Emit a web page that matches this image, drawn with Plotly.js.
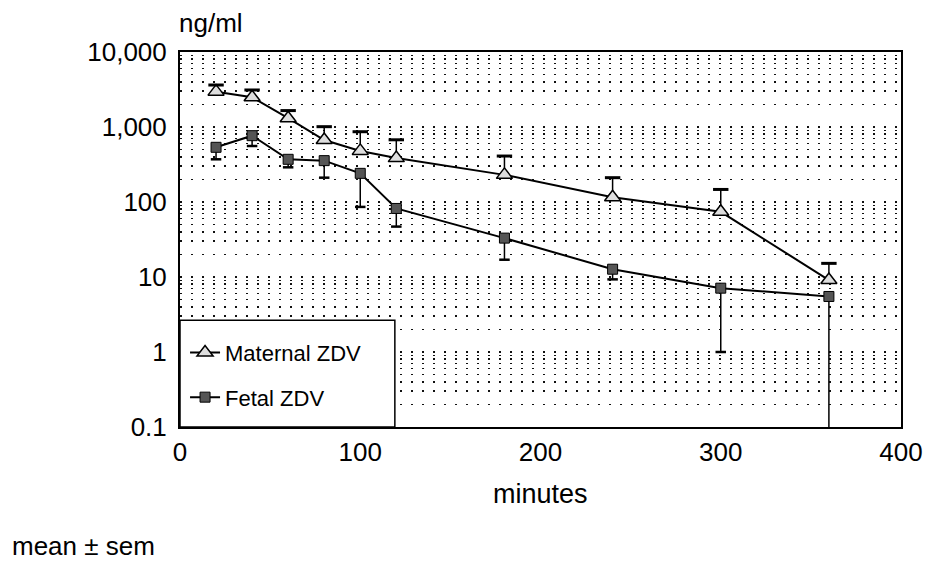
<!DOCTYPE html>
<html>
<head>
<meta charset="utf-8">
<script src="https://cdn.plot.ly/plotly-3.0.1.min.js"></script>
<style>html,body{margin:0;padding:0;background:#fff;}#chart{width:925px;height:564px;}</style>
</head>
<body>
<div id="chart"></div>
<script>
// ---- data ----
const minutes = [20, 40, 60, 80, 100, 120, 180, 240, 300, 360];
const maternalMean = [2960, 2490, 1310, 670, 480, 385, 230, 116, 74, 9.1];
const maternalSem  = [670, 625, 345, 340, 385, 290, 180, 95, 73, 6.1];
const fetalMean = [536, 766, 371, 356, 241, 82, 33, 12.7, 7.1, 5.5];
const fetalSem  = [165, 208, 81, 145, 155, 35, 16, 3.4, 6.1, 6.5];
const seriesNames = ['Maternal ZDV', 'Fetal ZDV'];
const decades = [0.1, 1, 10, 100, 1000, 10000];
const decadeLabels = ['0.1', '1', '10', '100', '1,000', '10,000'];
const xTicks = [0, 100, 200, 300, 400];
const yAxisLabel = 'ng/ml';
const xAxisLabel = 'minutes';
const footnote = 'mean \u00b1 sem';

// gridline positions: every 1..9 multiple of each decade
const gridVals = [], gridText = [];
decades.forEach((d, i) => {
  if (i === decades.length - 1) { gridVals.push(d); gridText.push(decadeLabels[i]); return; }
  for (let m = 1; m <= 9; m++) { gridVals.push(d * m); gridText.push(m === 1 ? decadeLabels[i] : ''); }
});

const zeros = minutes.map(() => 0);
const maternalCaps = maternalMean.map((v, i) => v + maternalSem[i]);
const fetalCaps = fetalMean.map((v, i) => (v - fetalSem[i] > 0 ? v - fetalSem[i] : null));

const FONT = 'Liberation Sans, Arial, Helvetica, sans-serif';

const traces = [
  {
    x: minutes, y: maternalMean, name: seriesNames[0], type: 'scatter', mode: 'lines+markers',
    line: {color: '#000', width: 2},
    marker: {symbol: 'triangle-up', size: 14, color: '#dedede', line: {color: '#000', width: 1.5}},
    error_y: {type: 'data', symmetric: false, array: maternalSem, arrayminus: zeros, width: 0, thickness: 1.5, color: '#000'},
    legendgroup: 'm'
  },
  {
    x: minutes, y: fetalMean, name: seriesNames[1], type: 'scatter', mode: 'lines+markers',
    line: {color: '#000', width: 2},
    marker: {symbol: 'square', size: 10, color: '#555', line: {color: '#000', width: 1}},
    error_y: {type: 'data', symmetric: false, array: zeros, arrayminus: fetalSem, width: 0, thickness: 1.5, color: '#000'},
    legendgroup: 'f'
  },
  {
    x: minutes, y: maternalCaps, type: 'scatter', mode: 'markers', showlegend: false, hoverinfo: 'skip',
    marker: {symbol: 'line-ew', size: 11, line: {color: '#000', width: 3}}
  },
  {
    x: minutes, y: fetalCaps, type: 'scatter', mode: 'markers', showlegend: false, hoverinfo: 'skip',
    marker: {symbol: 'line-ew', size: 7.5, line: {color: '#000', width: 2.5}}
  }
];

const layout = {
  width: 925, height: 564,
  margin: {l: 180, r: 24, t: 52, b: 137, pad: 0},
  paper_bgcolor: '#fff', plot_bgcolor: '#fff',
  font: {family: FONT, color: '#000', size: 24},
  showlegend: true,
  legend: {
    x: 0.007, y: 0.254, xanchor: 'left', yanchor: 'top',
    bgcolor: 'rgba(0,0,0,0)', borderwidth: 0,
    font: {family: FONT, size: 22, color: '#000'},
    traceorder: 'grouped', tracegroupgap: 13
  },
  xaxis: {
    range: [0, 400], tickmode: 'array', tickvals: xTicks, ticktext: xTicks.map(String),
    showgrid: false, zeroline: false, ticks: '',
    showline: true, mirror: true, linecolor: '#000', linewidth: 2,
    tickfont: {family: FONT, size: 26, color: '#000'}, ticklabelstandoff: 1
  },
  yaxis: {
    type: 'log', range: [-1, 4], tickmode: 'array', tickvals: gridVals, ticktext: gridText,
    showgrid: true, gridcolor: '#111', gridwidth: 1.6, griddash: '2px,9px',
    zeroline: false, ticks: '',
    showline: true, mirror: true, linecolor: '#000', linewidth: 2,
    tickfont: {family: FONT, size: 26, color: '#000'}, ticklabelstandoff: 6
  },
  shapes: [{
    type: 'rect', xref: 'paper', yref: 'paper', x0: 0, x1: 0.298, y0: 0, y1: 0.285,
    fillcolor: '#fff', line: {color: '#000', width: 1.5}, layer: 'above'
  }],
  annotations: [
    {text: yAxisLabel, xref: 'paper', yref: 'paper', x: -0.004, y: 1.077, xanchor: 'left', yanchor: 'middle',
     showarrow: false, font: {family: FONT, size: 26, color: '#000'}},
    {text: xAxisLabel, xref: 'paper', yref: 'paper', x: 0.5, y: -0.179, xanchor: 'center', yanchor: 'middle',
     showarrow: false, font: {family: FONT, size: 27, color: '#000'}},
    {text: footnote, xref: 'paper', yref: 'paper', x: -0.236, y: -0.3627, xanchor: 'left', yanchor: 'bottom',
     showarrow: false, font: {family: FONT, size: 26, color: '#000'}}
  ]
};

Plotly.newPlot('chart', traces, layout, {staticPlot: true, displayModeBar: false});
</script>
</body>
</html>
